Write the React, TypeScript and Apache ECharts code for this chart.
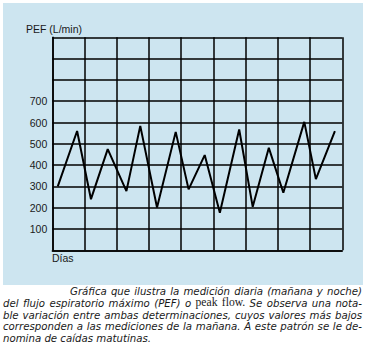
import React, { useEffect, useRef } from "react";
import * as echarts from "echarts";

// Measurement times (in days from the first grid column) and PEF values (L/min)
const dayPositions = [0.17, 0.77, 1.2, 1.72, 2.3, 2.73, 3.25, 3.83, 4.23, 4.73, 5.2, 5.8, 6.22, 6.72, 7.17, 7.82, 8.18, 8.77];
const pefValues = [300, 560, 240, 475, 278, 584, 201, 556, 286, 447, 176, 567, 204, 481, 270, 603, 334, 559];
const yTickLabels = ["100", "200", "300", "400", "500", "600", "700"];
// caption lines; words wrapped in {n|...} are set in roman type
const captionLines = [
  "Gráfica que ilustra la medición diaria (mañana y noche)",
  "del flujo espiratorio máximo (PEF) o {n|peak} {n|flow.} Se observa una nota-",
  "ble variación entre ambas determinaciones, cuyos valores más bajos",
  "corresponden a las mediciones de la mañana. A este patrón se le de-",
  "nomina de caídas matutinas.",
];

export default function App() {
  const ref = useRef<HTMLDivElement>(null);
  useEffect(() => {
    document.body.style.margin = "0";
    const chart = echarts.init(ref.current!, null, { renderer: "svg" });
    const font = "'Liberation Sans', Arial, sans-serif";
    const capFs = 10.2;
    const italicFont = `italic ${capFs}px 'DejaVu Sans', sans-serif`;
    const romanFont = `11.6px 'Liberation Serif', 'Times New Roman', serif`;
    const ctx = document.createElement("canvas").getContext("2d")!;
    const measure = (t: string, f: string) => {
      ctx.font = f;
      return ctx.measureText(t).width;
    };
    const capStart = [70, 3, 3, 3, 3];
    const capEnd = [362, 362, 362, 362, -1];
    const capBase = [296.8, 308.5, 320.2, 331.8, 343.5];
    const captionGraphics: any[] = [];
    captionLines.forEach((line, li) => {
      const words = line.split(" ").map((w) => {
        const m = /^\{n\|(.*)\}$/.exec(w);
        return m ? { t: m[1], f: romanFont } : { t: w, f: italicFont };
      });
      const widths = words.map((w) => measure(w.t, w.f));
      const total = widths.reduce((a, b) => a + b, 0);
      const space = measure(" ", italicFont);
      const gap = capEnd[li] > 0 && words.length > 1
        ? Math.max(1.5, (capEnd[li] - capStart[li] - total) / (words.length - 1))
        : space;
      let x = capStart[li];
      words.forEach((w, wi) => {
        captionGraphics.push({
          type: "text",
          x,
          y: capBase[li],
          style: { text: w.t, font: w.f, fill: "#1a1a1a", verticalAlign: "bottom" },
        });
        x += widths[wi] + gap;
      });
    });
    chart.setOption({
      animation: false,
      backgroundColor: "#ffffff",
      grid: { left: 52.3, right: 23.7, top: 37.3, bottom: 105.7, containLabel: false },
      xAxis: {
        type: "value",
        min: 0,
        max: 9,
        interval: 1,
        axisLine: { show: true, lineStyle: { color: "#000", width: 1.5 } },
        axisTick: { show: false },
        axisLabel: { show: false },
        splitLine: { show: true, lineStyle: { color: "#000", width: 1.5 } },
      },
      yAxis: {
        type: "value",
        min: 0,
        max: 1000,
        interval: 100,
        axisLine: { show: true, lineStyle: { color: "#000", width: 1.5 } },
        axisTick: { show: false },
        axisLabel: {
          margin: 5,
          fontFamily: font,
          fontSize: 10.5,
          color: "#1a1a1a",
          formatter: (v: number) => (yTickLabels.includes(String(v)) ? String(v) : ""),
        },
        splitLine: { show: true, lineStyle: { color: "#000", width: 1.5 } },
      },
      graphic: [
        { type: "rect", z: -10, shape: { x: 3, y: 3, width: 360, height: 282 }, style: { fill: "#cde5f0" } },
        { type: "text", x: 26, y: 28.5, style: { text: "PEF (L/min)", font: `10.5px ${font}`, fill: "#1a1a1a", verticalAlign: "middle" } },
        { type: "text", x: 52, y: 258, style: { text: "Días", font: `10.5px ${font}`, fill: "#1a1a1a", verticalAlign: "middle" } },
        ...captionGraphics,
      ],
      series: [
        {
          type: "line",
          data: dayPositions.map((d, i) => [d, pefValues[i]]),
          symbol: "none",
          lineStyle: { color: "#000", width: 2 },
        },
      ],
    });
    return () => chart.dispose();
  }, []);
  return <div ref={ref} style={{ width: 366, height: 356 }} />;
}
